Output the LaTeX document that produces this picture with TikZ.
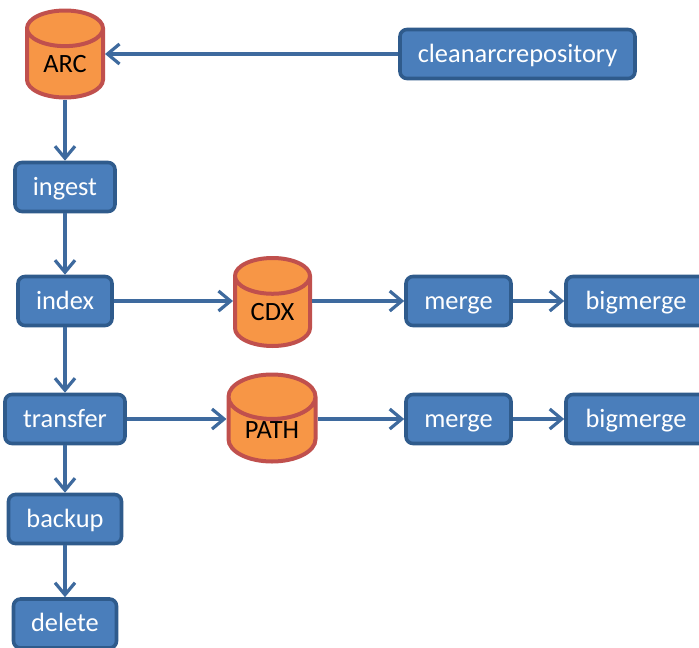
\documentclass[tikz,border=0pt]{standalone}
\usepackage{fontspec}
\setmainfont{Carlito}
\usetikzlibrary{shapes.geometric,arrows.meta}
\definecolor{boxfill}{HTML}{4A7EBB}
\definecolor{boxline}{HTML}{2F5B8C}
\definecolor{arrowcol}{HTML}{3E6A9E}
\definecolor{cylfill}{HTML}{F79646}
\definecolor{cylline}{HTML}{C0504D}
\tikzset{
 x=1pt,y=-1pt,
 proc/.style={draw=boxline,line width=3.6pt,fill=boxfill,rounded corners=7pt,text=white,
   inner sep=0pt,font=\fontsize{26.4}{30}\selectfont,minimum height=49pt,text height=18pt,text depth=2pt},
 store/.style={cylinder,shape border rotate=90,draw=cylline,line width=4pt,fill=cylfill,
   cylinder uses custom fill,cylinder body fill=cylfill,cylinder end fill=cylfill,
   inner sep=0pt,anchor=shape center,aspect=0.82,font=\fontsize{26.4}{30}\selectfont,text=black},
 link/.style={draw=arrowcol,line width=3.2pt,-{Straight Barb[length=12pt,width=20pt,line width=3.2pt]}},
}
\begin{document}
\begin{tikzpicture}
\useasboundingbox (0,0) rectangle (699,648);
\node[store,minimum width=76pt,minimum height=87pt] (arc) at (65,54) {ARC};
\node[store,minimum width=75pt,minimum height=88pt] (cdx) at (272.5,302) {CDX};
\node[store,minimum width=87pt,minimum height=87pt] (path) at (272,418) {PATH};
\node[proc,minimum width=235pt] (clean) at (517.5,54) {cleanarcrepository};
\node[proc,minimum width=100pt] (ingest) at (65,187) {ingest};
\node[proc,minimum width=94pt] (index) at (65,301) {index};
\node[proc,minimum width=120pt] (transfer) at (65,419) {transfer};
\node[proc,minimum width=113pt] (backup) at (65,519) {backup};
\node[proc,minimum width=103pt] (delete) at (65,623.5) {delete};
\node[proc,minimum width=105pt] (merge1) at (458.5,301) {merge};
\node[proc,minimum width=140pt] (big1) at (636,301) {bigmerge};
\node[proc,minimum width=105pt] (merge2) at (458.5,419) {merge};
\node[proc,minimum width=140pt] (big2) at (636,419) {bigmerge};
\draw[link] (clean.west) -- (clean.west -| arc.east);
\draw[link] (arc.south) -- (ingest.north);
\draw[link] (ingest.south) -- (index.north);
\draw[link] (index.south) -- (transfer.north);
\draw[link] (transfer.south) -- (backup.north);
\draw[link] (backup.south) -- (delete.north);
\draw[link] (index.east) -- (index.east -| cdx.west);
\draw[link] (merge1.west -| cdx.east) -- (merge1.west);
\draw[link] (merge1.east) -- (big1.west);
\draw[link] (transfer.east) -- (transfer.east -| path.west);
\draw[link] (merge2.west -| path.east) -- (merge2.west);
\draw[link] (merge2.east) -- (big2.west);
\end{tikzpicture}
\end{document}
